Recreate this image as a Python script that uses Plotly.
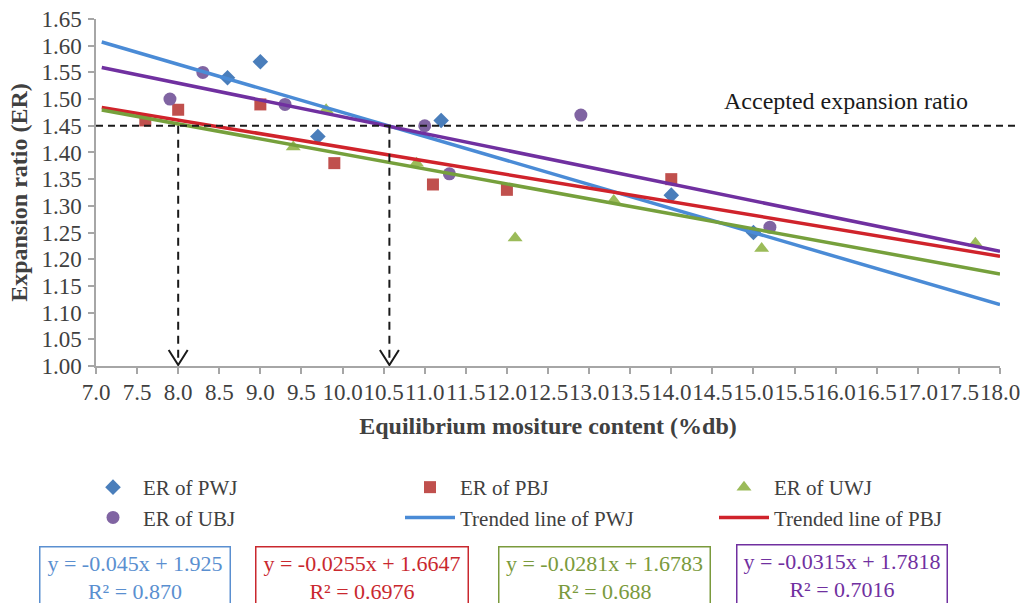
import plotly.graph_objects as go

# ---------------- data ----------------
pwj_x = [8.6, 9.0, 9.7, 11.2, 14.0, 15.0]
pwj_y = [1.54, 1.57, 1.43, 1.46, 1.32, 1.25]

pbj_x = [7.6, 8.0, 9.0, 9.9, 11.1, 12.0, 14.0]
pbj_y = [1.46, 1.48, 1.49, 1.38, 1.34, 1.33, 1.35]

uwj_x = [9.4, 9.8, 10.9, 12.1, 13.3, 15.1, 17.7]
uwj_y = [1.41, 1.48, 1.38, 1.24, 1.31, 1.22, 1.23]

ubj_x = [7.9, 8.3, 9.3, 11.0, 11.3, 12.9, 15.2]
ubj_y = [1.50, 1.55, 1.49, 1.45, 1.36, 1.47, 1.26]

# trend line equations  y = slope*x + intercept
trend_names = ["PWJ", "PBJ", "UWJ", "UBJ"]
trend_slope = [-0.045, -0.0255, -0.0281, -0.0315]
trend_intercept = [1.925, 1.6647, 1.6783, 1.7818]
trend_r2 = ["0.870", "0.6976", "0.688", "0.7016"]
trend_x_range = [7.07, 18.0]

accepted_er = 1.45
arrow_x = [8.0, 10.57]

x_ticks = [7.0 + 0.5 * i for i in range(23)]
y_ticks = [1.00 + 0.05 * i for i in range(14)]

# ---------------- style ----------------
FONT = "Liberation Serif, Tinos, Times New Roman, Times, DejaVu Serif, serif"
TXT = "#404040"
AXC = "#a6a6a6"
marker_colors = ["#4a7ebb", "#c0504d", "#9bbb59", "#8064a2"]
line_colors = ["#4a8bd6", "#d0232b", "#76a03c", "#7030a0"]
box_text_colors = ["#5a8fd0", "#c9282e", "#7a9a3c", "#7030a0"]

fig = go.Figure()

# legend column assignment for each marker series
series = [
    ("ER of PWJ", pwj_x, pwj_y, "diamond", 12, "legend"),
    ("ER of PBJ", pbj_x, pbj_y, "square", 12, "legend2"),
    ("ER of UWJ", uwj_x, uwj_y, "triangle-up", 13, "legend3"),
    ("ER of UBJ", ubj_x, ubj_y, "circle", 13, "legend"),
]
for i, (name, xs, ys, sym, sz, lg) in enumerate(series):
    fig.add_trace(go.Scatter(
        x=xs, y=ys, mode="markers", name=name, legend=lg,
        marker=dict(symbol=sym, size=sz, color=marker_colors[i], line=dict(width=0)),
    ))

trend_legend = ["legend2", "legend3", "legend", "legend"]
for i, nm in enumerate(trend_names):
    ys = [trend_slope[i] * xv + trend_intercept[i] for xv in trend_x_range]
    fig.add_trace(go.Scatter(
        x=trend_x_range, y=ys, mode="lines", name="Trended line of " + nm,
        line=dict(color=line_colors[i], width=3.5),
        showlegend=(i < 2), legend=trend_legend[i],
    ))

# plot area geometry (pixels)
W, H = 1028, 603
ML, MR, MT, MB = 96, 28, 19, 237
PW = W - ML - MR
PH = H - MT - MB


def px_x(p):
    return (p - ML) / PW


def px_y(p):
    return (H - MB - p) / PH


shapes = []
# horizontal accepted line
shapes.append(dict(
    type="line", xref="paper", yref="paper",
    x0=0, x1=px_x(1018),
    y0=(accepted_er - 1.0) / 0.65, y1=(accepted_er - 1.0) / 0.65,
    line=dict(color="#1a1a1a", width=2, dash="7px,5px"),
))
for ax_ in arrow_x:
    shapes.append(dict(
        type="line", xref="x", yref="y",
        x0=ax_, x1=ax_, y0=accepted_er, y1=1.004,
        line=dict(color="#1a1a1a", width=2, dash="8px,6px"),
    ))
    shapes.append(dict(
        type="path", xref="x", yref="y",
        xsizemode="pixel", ysizemode="pixel",
        xanchor=ax_, yanchor=1.0,
        path="M-9.5,16L0,1L9.5,16",
        line=dict(color="#1a1a1a", width=2),
    ))

annotations = [dict(
    x=16.12, y=1.4963, xref="x", yref="y", showarrow=False,
    text="Accepted expansion ratio",
    font=dict(family=FONT, size=24, color="#1a1a1a"),
)]

box_left = [39, 255, 498, 736]
box_right = [230, 468, 710, 947]
box_top = [546, 546, 546, 544]
for i in range(4):
    sign = "-" if trend_slope[i] < 0 else "+"
    txt = "y = %s%gx + %g<br>R² = %s" % (sign, abs(trend_slope[i]), trend_intercept[i], trend_r2[i])
    annotations.append(dict(
        x=px_x(box_left[i]), y=px_y(box_top[i]), xref="paper", yref="paper",
        xanchor="left", yanchor="top", showarrow=False,
        text=txt, align="center", valign="top",
        width=box_right[i] - box_left[i] - 8, height=70,
        font=dict(family=FONT, size=22, color=box_text_colors[i]),
        bordercolor=box_text_colors[i], borderwidth=1.5, borderpad=3,
        bgcolor="white",
    ))

legend_common = dict(
    orientation="v", xanchor="left", yanchor="top", itemwidth=50,
    font=dict(family=FONT, size=21, color=TXT),
    bgcolor="rgba(0,0,0,0)", traceorder="normal", tracegroupgap=0,
)

fig.update_layout(
    width=W, height=H,
    margin=dict(l=ML, r=MR, t=MT, b=MB),
    paper_bgcolor="white", plot_bgcolor="white",
    font=dict(family=FONT, color=TXT),
    showlegend=True,
    legend=dict(x=px_x(83), y=px_y(467), **legend_common),
    legend2=dict(x=px_x(400), y=px_y(467), **legend_common),
    legend3=dict(x=px_x(714), y=px_y(467), **legend_common),
    shapes=shapes,
    annotations=annotations,
    xaxis=dict(
        range=[7.0, 18.0], tickmode="array", tickvals=x_ticks,
        ticktext=["%.1f" % v for v in x_ticks], tickangle=0,
        showgrid=False, zeroline=False, showline=True, linecolor=AXC, linewidth=1.5,
        ticks="outside", ticklen=6, tickcolor=AXC, tickwidth=1.5,
        tickfont=dict(family=FONT, size=23, color=TXT), ticklabelstandoff=-1,
        automargin=False,
        title=dict(text="<b>Equilibrium mositure content (%db)</b>",
                   font=dict(family=FONT, size=24, color=TXT), standoff=13),
    ),
    yaxis=dict(
        range=[1.0, 1.65], tickmode="array", tickvals=y_ticks,
        ticktext=["%.2f" % v for v in y_ticks],
        showgrid=False, zeroline=False, showline=True, linecolor=AXC, linewidth=1.5,
        ticks="outside", ticklen=6, tickcolor=AXC, tickwidth=1.5,
        tickfont=dict(family=FONT, size=23, color=TXT), ticklabelstandoff=2,
        automargin=False,
        title=dict(text="<b>Expansion ratio (ER)</b>",
                   font=dict(family=FONT, size=24, color=TXT), standoff=7),
    ),
)

fig.write_html(
    "out.html",
    config={"displayModeBar": False},
    post_script="document.body.style.margin='0';document.body.style.overflow='hidden';",
)
